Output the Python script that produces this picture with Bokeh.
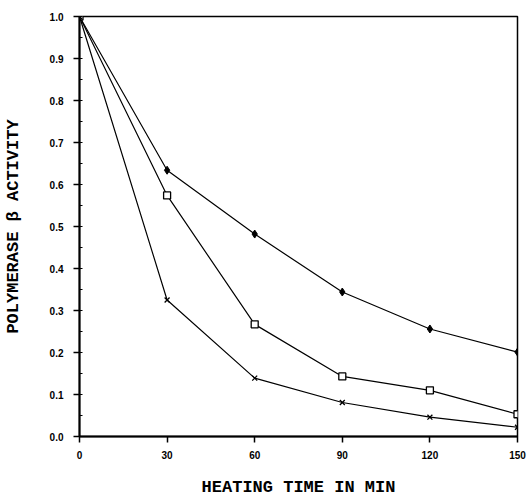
from bokeh.plotting import figure
from bokeh.models import FixedTicker, PrintfTickFormatter, Range1d
from bokeh.embed import file_html
from bokeh.resources import INLINE

# Data
time_min = [0, 30, 60, 90, 120, 150]
series_diamond = [1.0, 0.634, 0.482, 0.344, 0.256, 0.201]
series_square = [1.0, 0.574, 0.267, 0.143, 0.110, 0.053]
series_x = [1.0, 0.325, 0.139, 0.081, 0.046, 0.022]
x_ticks = [0, 30, 60, 90, 120, 150]
y_ticks = [0.0, 0.1, 0.2, 0.3, 0.4, 0.5, 0.6, 0.7, 0.8, 0.9, 1.0]

p = figure(width=531, height=499, output_backend="svg", toolbar_location=None,
           x_range=Range1d(0, 150), y_range=Range1d(0, 1.0),
           min_border_left=79, min_border_right=14, min_border_top=16, min_border_bottom=59)

p.xgrid.visible = False
p.ygrid.visible = False
p.outline_line_color = "black"
p.outline_line_width = 1.5
p.background_fill_color = "white"
p.border_fill_color = "white"

tick_font = "Liberation Sans"
title_font = "Liberation Mono"

p.xaxis.ticker = FixedTicker(ticks=x_ticks)
p.yaxis.ticker = FixedTicker(ticks=y_ticks, minor_ticks=[i * 0.05 for i in range(21)])
p.yaxis.formatter = PrintfTickFormatter(format="%.1f")

for ax in (p.xaxis[0], p.yaxis[0]):
    ax.axis_line_color = "black"
    ax.axis_line_width = 2
    ax.major_tick_line_color = "black"
    ax.major_tick_line_width = 1.5
    ax.major_tick_out = 6
    ax.major_tick_in = 0
    ax.major_label_text_font = tick_font
    ax.major_label_text_font_size = "10px"
    ax.major_label_text_font_style = "bold"
    ax.major_label_text_color = "black"
    ax.axis_label_text_font = title_font
    ax.axis_label_text_font_style = "bold"
    ax.axis_label_text_font_size = "17px"
    ax.axis_label_text_color = "black"

p.xaxis.minor_tick_line_color = None
p.yaxis.minor_tick_in = 3
p.yaxis.minor_tick_out = 0
p.yaxis.minor_tick_line_color = "black"

p.xaxis.axis_label = "HEATING TIME IN MIN"
p.yaxis.axis_label = "POLYMERASE \u03b2 ACTIVITY"
p.xaxis.axis_label_standoff = 16
p.yaxis.axis_label_standoff = 24
p.xaxis.major_label_standoff = 8
p.yaxis.major_label_standoff = 10

lw = 1.2
p.line(time_min, series_diamond, line_color="black", line_width=lw)
p.scatter(time_min, series_diamond, marker="diamond", size=8, fill_color="black", line_color="black")

p.line(time_min, series_square, line_color="black", line_width=lw)
p.scatter(time_min, series_square, marker="square", size=7, fill_color="white", line_color="black", line_width=1.3)

p.line(time_min, series_x, line_color="black", line_width=lw)
p.scatter(time_min, series_x, marker="x", size=7, line_color="black", line_width=1.3)

open("out.html", "w").write(file_html(p, INLINE))
